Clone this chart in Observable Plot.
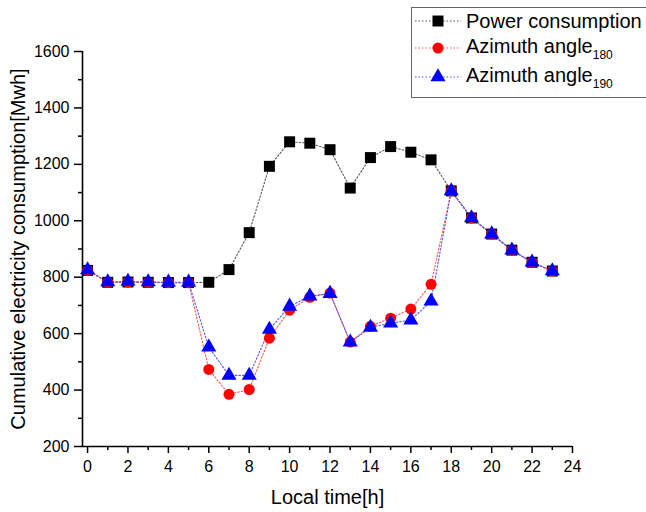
<!DOCTYPE html>
<html><head><meta charset="utf-8">
<script src="https://cdn.jsdelivr.net/npm/d3@7"></script>
<script src="https://cdn.jsdelivr.net/npm/@observablehq/plot@0.6"></script>
<style>
body{margin:0;background:#fff;overflow:hidden}
#wrap{position:relative;width:646px;height:512px;font-family:"Liberation Sans",Arial,sans-serif;overflow:hidden}
#legend{position:absolute;left:411px;top:7px;width:250px;height:89px;border:1px solid #666;background:#fff}
#legend .row{position:absolute;left:0;height:28px;display:flex;align-items:center}
#legend .lab{font-size:20px;color:#000;margin-left:2px;white-space:nowrap}
#legend sub{font-size:12px;vertical-align:-6px}
</style></head>
<body><div id="wrap"></div>
<script>
const hours = [0,1,2,3,4,5,6,7,8,9,10,11,12,13,14,15,16,17,18,19,20,21,22,23];
const power = [824,782,783,782,781,781,782,827,958,1193,1280,1275,1252,1116,1224,1263,1243,1216,1106,1010,953,896,853,822];
const az180 = [824,782,783,782,781,781,473,385,402,584,683,729,744,570,626,655,687,775,1106,1010,953,896,853,822];
const az190 = [826,783,785,783,782,782,552,452,452,615,697,733,742,570,622,637,648,715,1106,1010,953,896,853,822];
const xMajor = [0,2,4,6,8,10,12,14,16,18,20,22,24];
const xMinor = [1,3,5,7,9,11,13,15,17,19,21,23];
const yMajor = [200,400,600,800,1000,1200,1400,1600];
const yMinor = [300,500,700,900,1100,1300,1500];

const series = [
  {name:"Power consumption", sub:"", values:power, color:"#000", line:"#555", symbol:"square", r:6.2},
  {name:"Azimuth angle", sub:"180", values:az180, color:"#ff0000", line:"#ff5555", symbol:"circle", r:5.5},
  {name:"Azimuth angle", sub:"190", values:az190, color:"#0000ff", line:"#5555ff", symbol:"triangle", r:5.6}
];

const marks = [];
for (const s of series) {
  const d = hours.map((h,i)=>({h, v:s.values[i]}));
  marks.push(Plot.line(d, {x:"h", y:"v", stroke:s.line, strokeWidth:1.1, strokeDasharray:"1.5,2"}));
}
for (const s of series) {
  const d = hours.map((h,i)=>({h, v:s.values[i]}));
  marks.push(Plot.dot(d, {x:"h", y:"v", fill:s.color, stroke:"none", symbol:s.symbol, r:s.r}));
}

const chart = Plot.plot({
  width:646, height:512,
  marginLeft:82, marginRight:74, marginTop:51, marginBottom:66,
  style:{fontFamily:"Liberation Sans, Arial, sans-serif", background:"#fff", color:"#000"},
  x:{domain:[-0.25,24]},
  y:{domain:[200,1600]},
  marks:[
    Plot.axisY(yMinor, {tickSize:4, text:null, label:null, strokeWidth:1.5}),
    Plot.axisY(yMajor, {tickSize:8, tickPadding:5, fontSize:16, label:null, strokeWidth:1.5, tickFormat:d3.format("d")}),
    Plot.axisX(xMinor, {tickSize:4, text:null, label:null, strokeWidth:1.5}),
    Plot.axisX(xMajor, {tickSize:7, tickPadding:7, fontSize:16, label:null, strokeWidth:1.5, tickFormat:d3.format("d")}),
    Plot.ruleX([-0.25], {stroke:"#000", strokeWidth:1.6}),
    Plot.ruleY([200], {stroke:"#000", strokeWidth:1.6}),
    ...marks,
    Plot.text(["Cumulative electricity consumption[Mwh]"], {frameAnchor:"left", textAnchor:"middle", rotate:-90, dx:-64, fontSize:20, fill:"#000"}),
    Plot.text(["Local time[h]"], {frameAnchor:"bottom", dy:51, lineAnchor:"middle", fontSize:20, fill:"#000"})
  ]
});
const wrap = document.getElementById("wrap");
wrap.appendChild(chart);

// legend
const leg = document.createElement("div");
leg.id = "legend";
const rowTops = [-1, 26, 55];
series.forEach((s,i)=>{
  const row = document.createElement("div");
  row.className = "row";
  row.style.top = rowTops[i] + "px";
  const sw = d3.create("svg").attr("width",52).attr("height",28);
  sw.append("line").attr("x1",3).attr("x2",49).attr("y1",14).attr("y2",14)
    .attr("stroke",s.line).attr("stroke-width",1.1).attr("stroke-dasharray","1.5,2");
  sw.append("path").attr("transform","translate(26,14)")
    .attr("d", d3.symbol(s.symbol==="square"?d3.symbolSquare:s.symbol==="circle"?d3.symbolCircle:d3.symbolTriangle, Math.PI*s.r*s.r)())
    .attr("fill", s.color);
  row.appendChild(sw.node());
  const lab = document.createElement("span");
  lab.className = "lab";
  lab.innerHTML = s.name + (s.sub ? "<sub>"+s.sub+"</sub>" : "");
  row.appendChild(lab);
  leg.appendChild(row);
});
wrap.appendChild(leg);
</script>
</body></html>
